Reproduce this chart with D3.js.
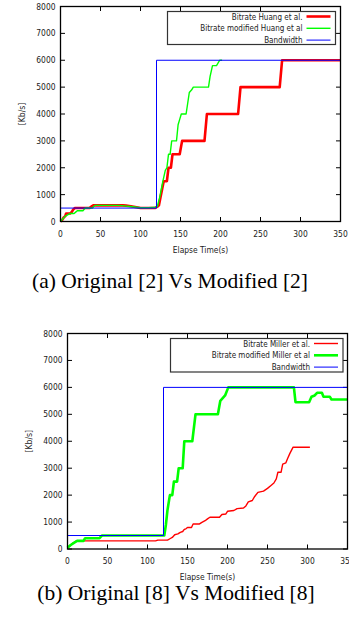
<!DOCTYPE html>
<html>
<head>
<meta charset="utf-8">
<script src="https://cdn.jsdelivr.net/npm/d3@7"></script>
<style>
  body { margin: 0; background: #fff; }
  svg { display: block; }
  .tick-label, .legend-label, .axis-label {
    font-family: "Liberation Sans Narrow", "DejaVu Sans Condensed", "Liberation Sans", sans-serif;
    fill: #222;
  }
  .caption { font-family: "Liberation Serif", "DejaVu Serif", serif; fill: #000; }
</style>
</head>
<body>
<svg width="349" height="623"></svg>
<script>
  // Values
  const xTicks = [0, 50, 100, 150, 200, 250, 300, 350];
  const yTicks = [0, 1000, 2000, 3000, 4000, 5000, 6000, 7000, 8000];

  const bandwidth = [[0, 500], [120, 500], [120, 6000], [350, 6000]];

  const huangOrig = [
    [0, 0], [2, 50], [4, 150], [6, 200], [7, 300], [12, 300], [14, 350], [16, 450], [18, 500],
    [36, 500], [39, 560], [41, 600], [78, 600], [82, 590], [88, 570], [95, 530], [100, 500],
    [118, 500], [121, 550], [123, 600], [125, 900], [127, 1200], [129, 1500], [133, 1500],
    [135, 2000], [138, 2000], [140, 2500], [149, 2500], [152, 3000], [180, 3000], [183, 4000],
    [222, 4000], [225, 5000], [274, 5000], [277, 6000], [350, 6000]
  ];

  const huangMod = [
    [0, 0], [3, 100], [6, 200], [9, 250], [12, 300], [17, 300], [19, 350], [21, 400], [28, 400],
    [31, 500], [40, 500], [43, 600], [72, 600], [80, 580], [90, 550], [100, 510], [110, 510],
    [119, 530], [121, 560], [124, 900], [126, 1200], [128, 1500], [131, 1900], [133, 2000],
    [135, 2500], [137, 2500], [139, 3000], [145, 3000], [147, 3600], [149, 3800], [151, 4000],
    [157, 4000], [159, 4400], [161, 4800], [164, 4900], [166, 5000], [185, 5000], [187, 5400],
    [190, 5800], [195, 5800], [199, 6000], [202, 6000]
  ];

  const millerOrig = [
    [0, 50], [3, 120], [6, 200], [10, 280], [12, 300], [110, 300], [113, 330], [125, 330],
    [128, 380], [131, 430], [134, 530], [138, 560], [141, 620], [144, 650], [146, 730],
    [148, 750], [150, 800], [155, 800], [157, 930], [165, 930], [168, 990], [172, 1050],
    [175, 1120], [178, 1180], [190, 1180], [193, 1280], [198, 1300], [200, 1400], [208, 1430],
    [212, 1500], [220, 1520], [223, 1600], [226, 1750], [231, 1800], [234, 1950], [238, 2100],
    [245, 2150], [250, 2250], [254, 2350], [258, 2450], [261, 2600], [263, 2850], [267, 2850],
    [269, 3150], [273, 3200], [275, 3350], [278, 3550], [282, 3780], [303, 3780]
  ];

  const millerMod = [
    [0, 50], [4, 150], [8, 230], [12, 300], [20, 300], [22, 400], [40, 400], [43, 500],
    [121, 500], [123, 900], [125, 1450], [128, 2000], [131, 2000], [133, 2500], [137, 2500],
    [139, 3000], [144, 3000], [146, 4000], [156, 4000], [160, 5000], [188, 5000], [191, 5500],
    [194, 5600], [197, 5700], [201, 6000], [283, 6000], [285, 5450], [302, 5450], [305, 5650],
    [309, 5700], [312, 5800], [318, 5800], [320, 5650], [328, 5650], [330, 5550], [350, 5550]
  ];

  const labelsA = ['Bitrate Huang et al.', 'Bitrate modified Huang et al', 'Bandwidth'];
  const labelsB = ['Bitrate Miller et al.', 'Bitrate modified Miller et al', 'Bandwidth'];
  const captions = ['(a) Original [2] Vs Modified [2]', '(b) Original [8] Vs Modified [8]'];

  const svg = d3.select('svg');

  const render = opts => {
    const { left, top, w, h, series, labels, legend, caption } = opts;

    const xScale = d3.scaleLinear().domain([0, 350]).range([left, left + w]);
    const yScale = d3.scaleLinear().domain([0, 8000]).range([top + h, top]);

    const g = svg.append('g');

    // inward ticks on all four sides (gnuplot style)
    const tickLen = 4.5;
    xTicks.forEach(t => {
      const x = xScale(t);
      g.append('line').attr('x1', x).attr('x2', x).attr('y1', top + h).attr('y2', top + h - tickLen)
        .attr('stroke', '#000');
      g.append('line').attr('x1', x).attr('x2', x).attr('y1', top).attr('y2', top + tickLen)
        .attr('stroke', '#000');
      g.append('text').attr('class', 'tick-label')
        .attr('x', x).attr('y', top + h + 15)
        .attr('text-anchor', 'middle').attr('font-size', 8.4)
        .text(t);
    });
    yTicks.forEach(t => {
      const y = yScale(t);
      g.append('line').attr('x1', left).attr('x2', left + tickLen).attr('y1', y).attr('y2', y)
        .attr('stroke', '#000');
      g.append('line').attr('x1', left + w).attr('x2', left + w - tickLen).attr('y1', y).attr('y2', y)
        .attr('stroke', '#000');
      g.append('text').attr('class', 'tick-label')
        .attr('x', left - 5).attr('y', y + 3)
        .attr('text-anchor', 'end').attr('font-size', 8.4)
        .text(t);
    });

    // data lines
    const line = d3.line().x(d => xScale(d[0])).y(d => yScale(d[1]));
    series.forEach(s => {
      g.append('path').datum(s.data)
        .attr('d', line)
        .attr('fill', 'none')
        .attr('stroke', s.color)
        .attr('stroke-width', s.width)
        .attr('stroke-linejoin', 'round');
    });

    // border
    g.append('rect')
      .attr('x', left).attr('y', top).attr('width', w).attr('height', h)
      .attr('fill', 'none').attr('stroke', '#000').attr('stroke-width', 1.3);

    // legend
    const lg = g.append('g');
    lg.append('rect')
      .attr('x', legend.x).attr('y', legend.y).attr('width', legend.w).attr('height', legend.h)
      .attr('fill', '#fff').attr('stroke', '#333').attr('stroke-width', 1.2);
    series.forEach((s, i) => {
      const y = legend.y + 5 + i * legend.step;
      lg.append('text').attr('class', 'legend-label')
        .attr('x', legend.textX).attr('y', y + 3)
        .attr('text-anchor', 'end').attr('font-size', 8)
        .text(labels[i]);
      lg.append('line')
        .attr('x1', legend.textX + 4).attr('x2', legend.textX + 28)
        .attr('y1', y).attr('y2', y)
        .attr('stroke', s.color).attr('stroke-width', s.width);
    });

    // axis labels
    g.append('text').attr('class', 'axis-label')
      .attr('transform', `translate(${opts.yLabelX},${top + h / 2}) rotate(-90)`)
      .attr('text-anchor', 'middle').attr('font-size', 8.6)
      .text('[Kb/s]');
    g.append('text').attr('class', 'axis-label')
      .attr('x', left + w / 2).attr('y', top + h + 31)
      .attr('text-anchor', 'middle').attr('font-size', 8.4)
      .text('Elapse Time(s)');

    // caption
    g.append('text').attr('class', 'caption')
      .attr('x', caption.x).attr('y', caption.y)
      .attr('text-anchor', 'middle').attr('font-size', 21.5)
      .text(caption.text);
  };

  render({
    left: 60.5, top: 6.5, w: 280, h: 215,
    yLabelX: 25,
    series: [
      { data: huangOrig, color: '#ff0000', width: 2.6 },
      { data: huangMod, color: '#00ff00', width: 1.4 },
      { data: bandwidth, color: '#0000ff', width: 1 }
    ],
    labels: labelsA,
    legend: { x: 167.5, y: 11.5, w: 168, h: 33, textX: 302.5, step: 11.8 },
    caption: { x: 170, y: 288, text: captions[0] }
  });

  render({
    left: 67.5, top: 333.5, w: 280, h: 215.5,
    yLabelX: 32,
    series: [
      { data: millerOrig, color: '#ff0000', width: 1.4 },
      { data: millerMod, color: '#00ff00', width: 2.6 },
      { data: bandwidth, color: '#0000ff', width: 1 }
    ],
    labels: labelsB,
    legend: { x: 170.5, y: 338.5, w: 172.5, h: 33.5, textX: 310, step: 11.8 },
    caption: { x: 176, y: 600, text: captions[1] }
  });
</script>
</body>
</html>
